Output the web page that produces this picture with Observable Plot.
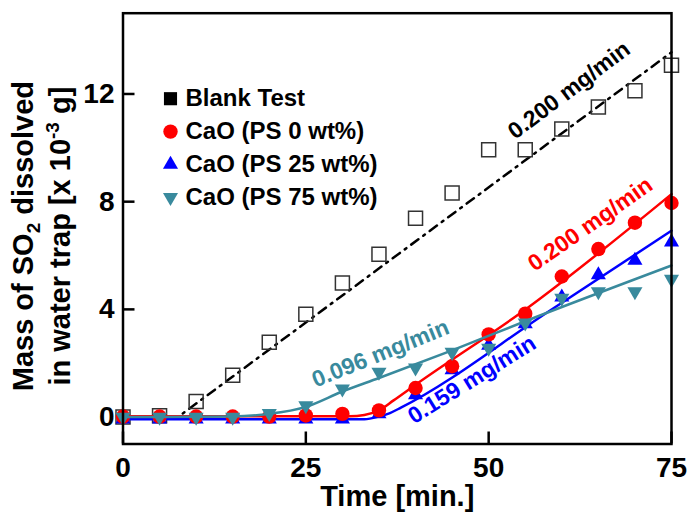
<!DOCTYPE html>
<html><head><meta charset="utf-8">
<script src="https://cdn.jsdelivr.net/npm/d3@7"></script>
<script src="https://cdn.jsdelivr.net/npm/@observablehq/plot@0.6"></script>
<style>body{margin:0;background:#fff}#chart{width:688px;height:516px}</style>
</head><body><div id="chart"></div>
<script>
// ---- data ----
const time = [0, 5, 10, 15, 20, 25, 30, 35, 40, 45, 50, 55, 60, 65, 70, 75];
const blankTest = [0, 0.05, 0.58, 1.55, 2.78, 3.82, 4.98, 6.05, 7.38, 8.32, 9.93, 9.93, 10.7, 11.52, 12.12, 13.07];
const caoPS0 = [0.02, 0.02, 0.02, 0.02, 0.02, 0.06, 0.12, 0.25, 1.08, 1.89, 3.07, 3.84, 5.22, 6.24, 7.22, 7.95];
const caoPS25 = [-0.08, -0.08, -0.08, -0.08, -0.08, -0.08, -0.08, 0.12, 0.82, 1.75, 2.66, 3.46, 4.45, 5.28, 5.82, 6.5];
const caoPS75 = [0, 0, 0, 0, 0.14, 0.43, 1.05, 1.67, 1.83, 2.41, 2.56, 3.5, 4.42, 4.66, 4.66, 5.12];

// fitted lines [time, mass]
const fitBlank = [[0, 0], [7.5, 0], [75, 13.55]];
const fitPS0 = [[0, 0.03], [31, 0.03], [33, 0.08], [35, 0.25], [37, 0.62], [40, 1.2], [55.4, 4.07], [75, 8.28]];
const fitPS25 = [[0, -0.08], [33, -0.08], [35, 0.02], [36.5, 0.15], [38, 0.35], [58.4, 3.96], [75, 6.92]];
const fitPS75 = [[0, 0], [15, 0.02], [20, 0.12], [25, 0.38], [30, 0.95], [35, 1.45], [45, 2.48], [55, 3.56], [75, 5.63]];

// rate annotations (anchor in data units)
const rateText = ["0.200 mg/min", "0.200 mg/min", "0.159 mg/min", "0.096 mg/min"];
const rateT = [61.0, 63.9, 47.7, 35.2];
const rateM = [12.14, 7.16, 1.39, 2.36];
const rateAngle = [-37, -35, -32, -22];

const legendLabels = ["Blank Test", "CaO (PS 0 wt%)", "CaO (PS 25 wt%)", "CaO (PS 75 wt%)"];
const xTicks = [0, 25, 50, 75];
const yTicks = [0, 4, 8, 12];

// ---- styles ----
const RED = "#ff0000", BLUE = "#0000ff", TEAL = "#398a9d", BLACK = "#000000";
const rateColor = [BLACK, RED, BLUE, TEAL];
const sqrt3 = Math.sqrt(3);
const triangleDown = {
  draw(ctx, size) {
    const y = -Math.sqrt(size / (sqrt3 * 3));
    ctx.moveTo(0, -y * 2);
    ctx.lineTo(-sqrt3 * y, y);
    ctx.lineTo(sqrt3 * y, y);
    ctx.closePath();
  }
};
const rows = (vals) => time.map((t, i) => ({t, v: vals[i]}));

const legendSpec = [
  {symbol: "square", fill: BLACK, r: 7.4},
  {symbol: "circle", fill: RED, r: 7.2},
  {symbol: "triangle", fill: BLUE, r: 5.6},
  {symbol: triangleDown, fill: TEAL, r: 5.6}
];

const legendMarks = legendLabels.flatMap((label, i) => [
  Plot.dot([label], {x: null, y: null, frameAnchor: "top-left", dx: 47.5, dy: 85.5 + i * 32.9,
    symbol: legendSpec[i].symbol, r: legendSpec[i].r, fill: legendSpec[i].fill, stroke: "none"}),
  Plot.text([label], {x: null, y: null, frameAnchor: "top-left", dx: 62.5, dy: 85.5 + i * 32.9,
    textAnchor: "start", lineAnchor: "middle", fontSize: 24, fontWeight: "bold", fill: BLACK})
]);

const rateMarks = rateText.map((txt, i) =>
  Plot.text([txt], {x: () => rateT[i], y: () => rateM[i], text: d => d, rotate: rateAngle[i],
    fill: rateColor[i], fontSize: 23, fontWeight: "bold", textAnchor: "middle", lineAnchor: "middle"})
);

const chart = Plot.plot({
  width: 688, height: 516,
  marginLeft: 122.5, marginRight: 17, marginTop: 12.7, marginBottom: 72.5,
  style: {fontFamily: "'Liberation Sans', Arial, sans-serif", fontWeight: "bold", background: "white"},
  x: {domain: [0, 75]},
  y: {domain: [-1, 15]},
  marks: [
    Plot.axisX(xTicks, {tickSize: -12, tickPadding: 25.5, fontSize: 28, strokeWidth: 2.5, label: null}),
    Plot.axisY(yTicks, {tickSize: -12, tickPadding: 20.5, fontSize: 28, strokeWidth: 2.5, label: null}),
    Plot.line(fitBlank, {x: d => d[0], y: d => d[1], stroke: BLACK, strokeWidth: 2.5, strokeDasharray: "9,6,2,6"}),
    Plot.dot(rows(blankTest), {x: "t", y: "v", symbol: "square", r: 7.9, fill: "none", stroke: "#333", strokeWidth: 1.5}),
    Plot.line(fitPS25, {x: d => d[0], y: d => d[1], stroke: BLUE, strokeWidth: 2.5, curve: "monotone-x"}),
    Plot.dot(rows(caoPS25), {x: "t", y: "v", symbol: "triangle", r: 5.6, fill: BLUE}),
    Plot.line(fitPS0, {x: d => d[0], y: d => d[1], stroke: RED, strokeWidth: 2.5, curve: "monotone-x"}),
    Plot.dot(rows(caoPS0), {x: "t", y: "v", symbol: "circle", r: 7.2, fill: RED}),
    Plot.line(fitPS75, {x: d => d[0], y: d => d[1], stroke: TEAL, strokeWidth: 2.5, curve: "monotone-x"}),
    Plot.dot(rows(caoPS75), {x: "t", y: "v", symbol: triangleDown, r: 5.6, fill: TEAL}),
    ...rateMarks,
    ...legendMarks,
    Plot.text(["Time [min.]"], {x: null, y: null, frameAnchor: "bottom", dy: 53, fontSize: 29, fontWeight: "bold", textAnchor: "middle", lineAnchor: "middle"}),
    Plot.text(["Mass of SO2 dissolved"], {x: null, y: null, frameAnchor: "left", dx: -99.2, dy: 7.5, rotate: -90, fontSize: 29, fontWeight: "bold", textAnchor: "middle", lineAnchor: "middle"}),
    Plot.text(["in water trap [x 10-3 g]"], {x: null, y: null, frameAnchor: "left", dx: -62, dy: 7.5, rotate: -90, fontSize: 29, fontWeight: "bold", textAnchor: "middle", lineAnchor: "middle"}),
    Plot.frame({stroke: BLACK, strokeWidth: 2.5})
  ]
});
document.getElementById("chart").appendChild(chart);

// sub/superscripts in the y title
const NS = "http://www.w3.org/2000/svg";
function rebuild(el, parts) {
  el.textContent = "";
  for (const [s, shift, size] of parts) {
    const ts = document.createElementNS(NS, "tspan");
    ts.textContent = s;
    if (shift) ts.setAttribute("dy", shift);
    if (size) ts.setAttribute("font-size", size);
    el.appendChild(ts);
  }
}
chart.querySelectorAll("text").forEach(el => {
  if (el.textContent === "Mass of SO2 dissolved") {
    rebuild(el, [["Mass of SO", 0, 0], ["2", 7, 19], [" dissolved", -7, 0]]);
  } else if (el.textContent === "in water trap [x 10-3 g]") {
    rebuild(el, [["in water trap [x 10", 0, 0], ["-3", -11, 19], [" g]", 11, 0]]);
  }
});
</script></body></html>
